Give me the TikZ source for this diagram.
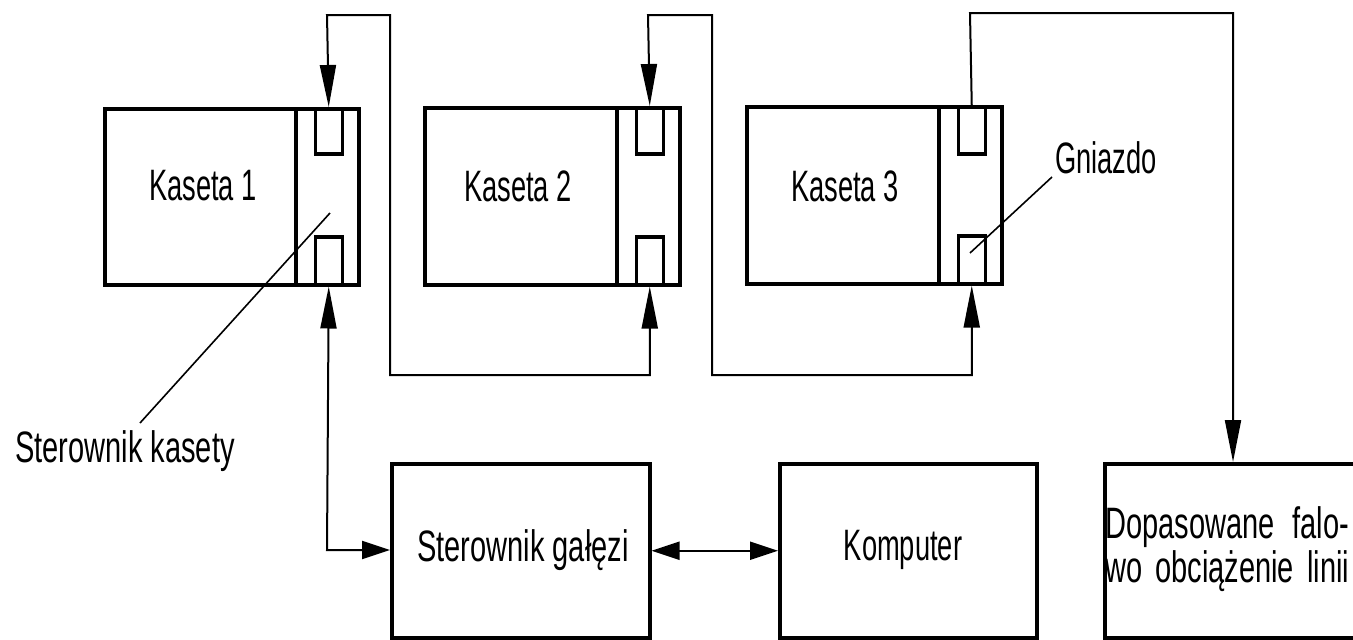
\documentclass[tikz,border=0pt]{standalone}
\usepackage{fontspec}
\setmainfont{Liberation Sans}[FakeStretch=0.62]
\newfontfamily\widefont{Liberation Sans}[FakeStretch=0.66]
\usetikzlibrary{arrows.meta,calc}

\tikzset{
  vtip/.tip={Triangle[length=42pt,width=16pt]},
  htip/.tip={Triangle[length=28pt,width=18pt]}
}

\begin{document}
\begin{tikzpicture}[x=1pt,y=-1pt,
  box/.style={draw,line width=3.5pt,rectangle,inner sep=0pt,anchor=north west},
  lbl/.style={inner sep=0pt,font=\fontsize{44}{44}\selectfont},
  wlbl/.style={inner sep=0pt,font=\widefont\fontsize{44}{44}\selectfont},
  wire/.style={line width=2pt},
  leader/.style={line width=1.6pt}]

\useasboundingbox (0,0) rectangle (1353,640);
\clip (0,0) rectangle (1353,640);

% cassettes: main part, controller part and its two sockets
\node[box,minimum width=191pt,minimum height=176pt] (k1) at (103,107) {};
\node[box,minimum width=63pt,minimum height=176pt] (k1c) at (294,107) {};
\node[box,minimum width=27pt,minimum height=45pt] (k1s1) at (313.5,107) {};
\node[box,minimum width=27pt,minimum height=48pt] (k1s2) at (313.5,235) {};
\node[lbl] (k1t) at (203,186) {Kaseta 1};

\node[box,minimum width=192pt,minimum height=177pt] (k2) at (423,106) {};
\node[box,minimum width=63pt,minimum height=177pt] (k2c) at (615,106) {};
\node[box,minimum width=27pt,minimum height=46pt] (k2s1) at (634.5,106) {};
\node[box,minimum width=27pt,minimum height=48pt] (k2s2) at (634.5,235) {};
\node[lbl] (k2t) at (518,186) {Kaseta 2};

\node[box,minimum width=192pt,minimum height=177pt] (k3) at (745,105) {};
\node[box,minimum width=63pt,minimum height=177pt] (k3c) at (937,105) {};
\node[box,minimum width=27pt,minimum height=47pt] (k3s1) at (956.5,105) {};
\node[box,minimum width=27pt,minimum height=48pt] (k3s2) at (956.5,234) {};
\node[lbl] (k3t) at (845,186) {Kaseta 3};

% lower row
\node[box,minimum width=258pt,minimum height=174pt] (sg) at (390,462) {};
\node[wlbl] (sgt) at (523,550) {Sterownik gałęzi};
\node[box,minimum width=257pt,minimum height=174pt] (kp) at (778,462) {};
\node[lbl] (kpt) at (903,550) {Komputer};
\node[box,minimum width=300pt,minimum height=174pt] (dop) at (1103,462) {};
\node[wlbl,anchor=base west] (dop1) at (1105,538) {\hbox to 244pt{Dopasowane\hfill falo-}};
\node[wlbl,anchor=base west] (dop2) at (1105,582) {\hbox to 244pt{wo\hfill obciążenie\hfill linii}};

% labels with leader lines
\node[lbl,anchor=base west] (gn) at (1055,173) {Gniazdo};
\node[wlbl,anchor=base west] (sk) at (15,462) {Sterownik kasety};
\coordinate (gnp) at (970,253);
\coordinate (skp) at (330,213);
\draw[leader] ($(gn.base west)+(-3,4)$) -- (gnp);
\draw[leader] ($(sk.base west)+(125,-39)$) -- (skp);

% bus lines
\coordinate (a1) at (327,15);
\coordinate (a2) at (390,15);
\coordinate (a3) at (390,375);
\draw[wire,vtip-vtip] (k1s1.north) -- (a1) -- (a2) -- (a3) -| (k2s2.south);

\coordinate (b1) at (648,15);
\coordinate (b2) at (712,15);
\coordinate (b3) at (712,375);
\draw[wire,vtip-vtip] (k2s1.north) -- (b1) -- (b2) -- (b3) -| (k3s2.south);

\coordinate (c1) at (970,13);
\coordinate (c2) at (1233,13);
\draw[wire,-vtip] (k3s1.north) -- (c1) -- (c2) -- (c2 |- dop.north);

\coordinate (d1) at (327,550);
\draw[wire,vtip-htip] (k1s2.south) -- (d1) -- (d1 -| sg.west);
\draw[wire,htip-htip] (sg.east) -- (kp.west);
\end{tikzpicture}
\end{document}
